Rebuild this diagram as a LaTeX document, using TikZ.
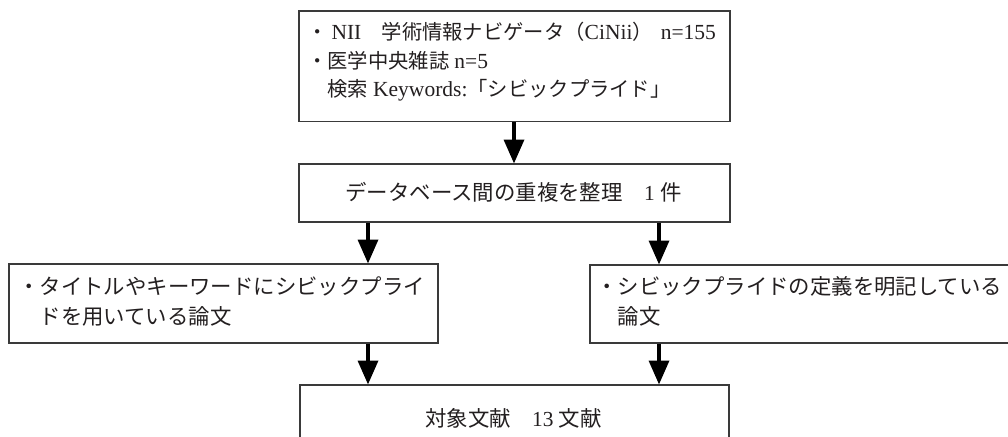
\documentclass[tikz,border=0pt]{standalone}
\usepackage{fontspec}
\setmainfont{Liberation Serif}
\newfontfamily\jp{Noto Sans CJK JP}
\usetikzlibrary{arrows.meta}
\newcommand\J[1]{{\jp #1}}
\newcommand\Lt[1]{{\fontsize{21.5}{24}\selectfont #1}}
\definecolor{ink}{HTML}{231F20}
\definecolor{frame}{HTML}{3A3A3A}
\tikzset{
  x=1pt, y=-1pt,
  box/.style={draw=frame, line width=1.5pt, rectangle, anchor=north west, inner sep=0pt},
  txt/.style={text=ink, inner sep=0pt},
  small/.style={txt, font=\fontsize{20.3}{24}\selectfont},
  big/.style={txt, font=\fontsize{21.4}{24}\selectfont},
  flow/.style={draw=black, line width=3.5pt, -{Triangle[length=24pt,width=20pt]}, shorten >=-0.5pt},
}
\begin{document}
\begin{tikzpicture}
\useasboundingbox (0,0) rectangle (1008,436);
\clip (0,0) rectangle (1008,436);
\fill[white] (0,0) rectangle (1008,436);
% boxes
\node[box, minimum width=431pt, minimum height=110pt] (src) at (298,10.5) {};
\node[box, minimum width=431pt, minimum height=58pt] (dup) at (298,163) {};
\node[box, minimum width=429pt, minimum height=79pt] (lft) at (8,263) {};
\node[box, minimum width=440pt, minimum height=78pt] (rgt) at (589,264) {};
\node[box, minimum width=429pt, minimum height=70pt] (res) at (299,384) {};
% texts
\node[small, anchor=base west] (t1) at (307,40)
  {\makebox[74.5pt][l]{\J{・}\hspace{4pt}\Lt{NII}}\J{学術情報ナビゲータ（}\Lt{CiNii}\J{）}\hspace{8pt}\Lt{n=155}};
\node[small, anchor=base west] (t2) at (307,68) {\J{・医学中央雑誌} \Lt{n=5}};
\node[small, anchor=base west] (t3) at (327.3,96) {\J{検索} \Lt{Keywords:}\J{「シビックプライド」}};
\node[big, anchor=base] (t4) at (513.5,200) {\J{データベース間の重複を整理　}1 \J{件}};
\node[big, anchor=base west] (t5) at (18,294) {\J{・タイトルやキーワードにシビックプライ}};
\node[big, anchor=base west] (t6) at (39.4,324) {\J{ドを用いている論文}};
\node[big, anchor=base west] (t7) at (596,294) {\J{・シビックプライドの定義を明記している}};
\node[big, anchor=base west] (t8) at (617.4,324) {\J{論文}};
\node[big, anchor=base] (t9) at (513.5,426) {\J{対象文献　}13 \J{文献}};
% arrow columns
\coordinate (cm) at (514,0);
\coordinate (cl) at (368,0);
\coordinate (cr) at (659,0);
% connectors
\draw[flow] (src.south -| cm) -- (dup.north -| cm);
\draw[flow] (dup.south -| cl) -- (lft.north -| cl);
\draw[flow] (dup.south -| cr) -- (rgt.north -| cr);
\draw[flow] (lft.south -| cl) -- (res.north -| cl);
\draw[flow] (rgt.south -| cr) -- (res.north -| cr);
\end{tikzpicture}
\end{document}
